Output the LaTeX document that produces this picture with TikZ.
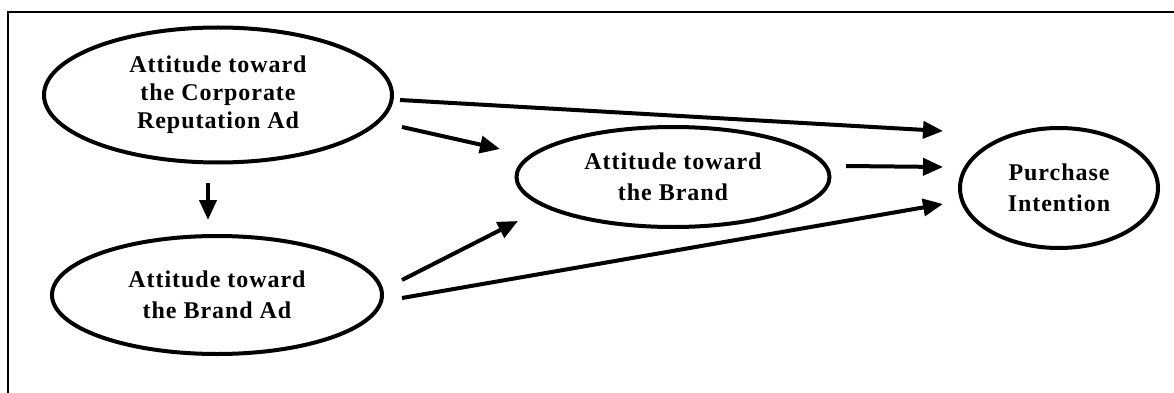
\documentclass[tikz,border=0pt]{standalone}
\usepackage{fontspec}
\newfontfamily\labfont{Liberation Serif}[LetterSpace=4]
\usetikzlibrary{shapes.geometric,arrows.meta}
\begin{document}
\begin{tikzpicture}[x=1pt,y=-1pt,
  oval/.style={ellipse,draw,line width=4pt,inner sep=0pt,align=center,
    font=\labfont\bfseries\fontsize{24}{31}\selectfont},
  arr/.style={line width=4pt,-{Triangle[length=20pt,width=17pt]}}]
\useasboundingbox (0,0) rectangle (1174,393);
\draw[line width=2pt] (8,393) -- (8,12) -- (1174,12);
\node[oval,minimum width=348pt,minimum height=135pt,
  font=\labfont\bfseries\fontsize{24}{28}\selectfont] (corp) at (218,95)
  {Attitude toward\\the Corporate\\Reputation Ad};
\node[oval,minimum width=330pt,minimum height=118pt] (bad) at (217,295)
  {Attitude toward\\the Brand Ad};
\node[oval,minimum width=313pt,minimum height=100pt] (brand) at (673,177)
  {Attitude toward\\the Brand};
\node[oval,minimum width=198pt,minimum height=120pt] (pi) at (1059,188)
  {Purchase\\Intention};
\coordinate (a1s) at (400,100); \coordinate (a1e) at (943,131);
\coordinate (a2s) at (402,127); \coordinate (a2e) at (500,149);
\coordinate (a3s) at (208,183); \coordinate (a3e) at (208,220);
\coordinate (a4s) at (402,280); \coordinate (a4e) at (518,221);
\coordinate (a5s) at (402,298); \coordinate (a5e) at (943,204);
\coordinate (a6s) at (846,166); \coordinate (a6e) at (943,167);
\draw[arr] (a1s) -- (a1e);
\draw[arr] (a2s) -- (a2e);
\draw[arr] (a3s) -- (a3e);
\draw[arr] (a4s) -- (a4e);
\draw[arr] (a5s) -- (a5e);
\draw[arr] (a6s) -- (a6e);
\end{tikzpicture}
\end{document}
